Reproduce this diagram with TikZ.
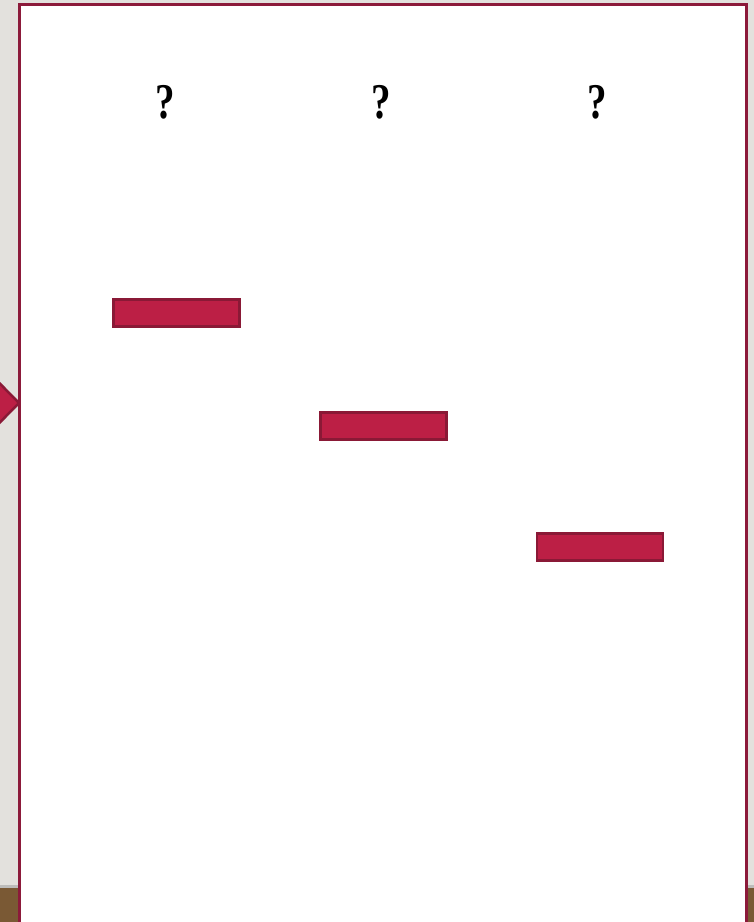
\documentclass[tikz,border=0pt]{standalone}
\usepackage{fontspec}
\setmainfont{Liberation Serif}
\definecolor{bggray}{HTML}{E3E1DD}
\definecolor{wood}{HTML}{7A5934}
\definecolor{frame}{HTML}{8C1A3A}
\definecolor{barfill}{HTML}{BC1F45}
\definecolor{bardraw}{HTML}{8A1936}
\tikzset{
  bar/.style={draw=bardraw, fill=barfill, line width=2.8pt, minimum width=126pt, minimum height=27pt, inner sep=0pt},
  qmark/.style={font=\fontsize{50}{50}\selectfont\bfseries, inner sep=0pt, xscale=0.78},
}
\begin{document}
\begin{tikzpicture}[x=1pt,y=-1pt]
\useasboundingbox (0,0) rectangle (754,922);
\clip (0,0) rectangle (754,922);
\fill[bggray] (0,0) rectangle (754,888);
\fill[wood] (0,888) rectangle (754,922);
\fill[black!40,opacity=0.5] (0,885) rectangle (754,888);
% left arrow
\filldraw[fill=barfill, draw=bardraw, line width=2.5pt] (-40,343) -- (19,403) -- (-40,463) -- cycle;
% panel
\filldraw[fill=white, draw=frame, line width=3pt] (19.5,4.5) rectangle (746.5,935);
% question marks
\node[qmark] (q1) at (165,102) {?};
\node[qmark] (q2) at (381,102) {?};
\node[qmark] (q3) at (597,102) {?};
% bars
\node[bar] (b1) at (176.5,313) {};
\node[bar] (b2) at (383.5,426) {};
\node[bar] (b3) at (600,547) {};
\end{tikzpicture}
\end{document}
